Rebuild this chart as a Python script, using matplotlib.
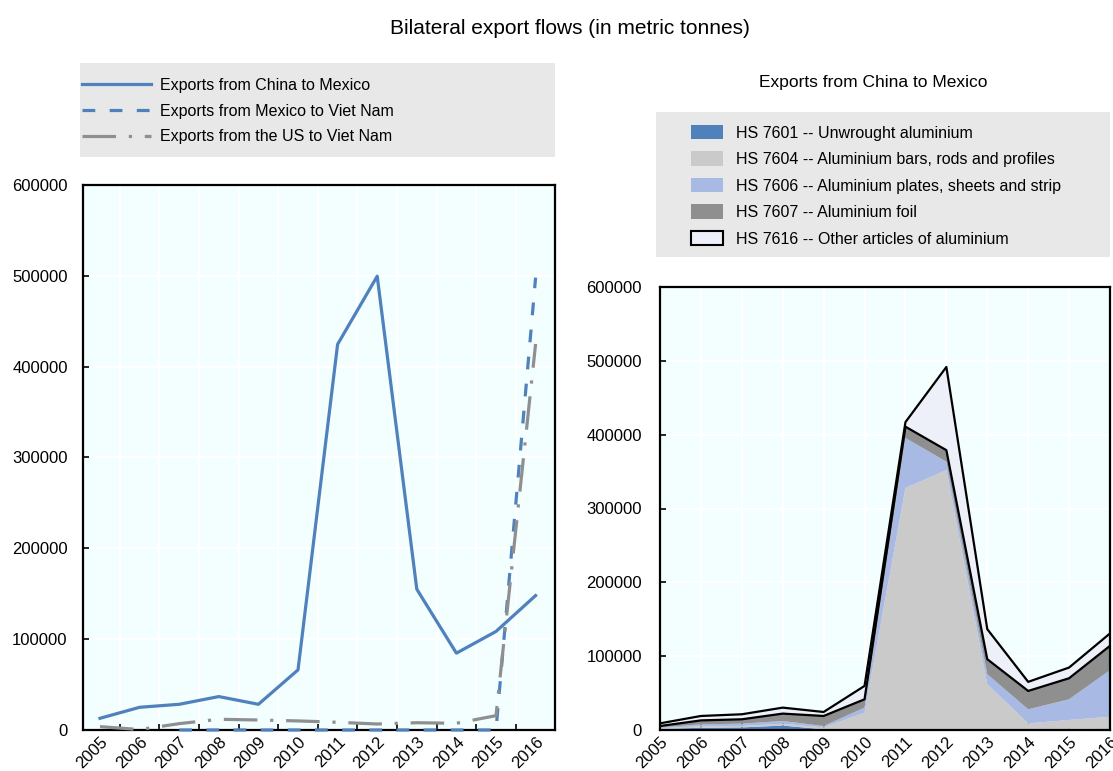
import numpy as np
import matplotlib
matplotlib.use("Agg")
import matplotlib.pyplot as plt
from matplotlib.patches import Patch, Rectangle

plt.rcParams['font.family'] = ['Liberation Sans', 'DejaVu Sans']

years = ['2005', '2006', '2007', '2008', '2009', '2010',
         '2011', '2012', '2013', '2014', '2015', '2016']

# left panel: bilateral flows (tonnes)
china_mexico = [12900, 25000, 28300, 36800, 28300, 66200,
                424600, 499600, 155000, 84600, 108500, 148000]
mexico_vietnam = [np.nan, np.nan, 0, 0, 0, 0, 0, 0, 0, 0, 0, 498000]
us_vietnam = [3700, 500, 7000, 11800, 11000, 10000,
              8500, 6600, 8000, 7400, 15800, 425000]

# right panel: exports from China to Mexico by HS code
hs_labels = ['HS 7601 -- Unwrought aluminium',
             'HS 7604 -- Aluminium bars, rods and profiles',
             'HS 7606 -- Aluminium plates, sheets and strip',
             'HS 7607 -- Aluminium foil',
             'HS 7616 -- Other articles of aluminium']
hs7601 = [1500, 3000, 3500, 6000, 1000, 800, 500, 500, 500, 500, 1500, 2000]
hs7604 = [1000, 2000, 2000, 2500, 2500, 22700, 327300, 351500, 61500, 8500, 12100, 16000]
hs7606 = [1000, 2700, 3100, 3700, 1900, 6800, 67700, 11400, 13600, 19000, 28000, 63000]
hs7607 = [1900, 5300, 5900, 10000, 13600, 11300, 15300, 15600, 20300, 24900, 28500, 33000]
hs7616 = [3600, 6000, 6800, 8100, 5400, 18100, 6200, 112700, 40700, 12300, 14500, 16800]

blue = '#4F81BD'
grey = '#8F8F8F'
bg = '#F3FEFE'
hs_colors = ['#4F81BD', '#CACACA', '#A8B9E3', '#8F8F8F', '#EDF0F8']
fs = 12

fig = plt.figure(figsize=(11.13, 7.71), dpi=100)
W, H = 1113, 771


def fbox(x0, y0, x1, y1):
    # pixel box (top-left origin) -> figure fraction [l, b, w, h]
    return [x0 / W, 1 - y1 / H, (x1 - x0) / W, (y1 - y0) / H]


fig.text(0.512, 1 - 28 / H, 'Bilateral export flows (in metric tonnes)',
         ha='center', va='center', fontsize=15)
fig.text(873 / W, 1 - 82 / H, 'Exports from China to Mexico',
         ha='center', va='center', fontsize=12.5)


def style_axes(ax, pad):
    ax.set_facecolor(bg)
    for s in ax.spines.values():
        s.set_linewidth(1.6)
        s.set_color('black')
    ax.set_ylim(0, 600000)
    ax.set_yticks(np.arange(0, 600001, 100000))
    ax.set_yticklabels([str(v) for v in range(0, 600001, 100000)])
    ax.tick_params(axis='y', direction='in', length=4, width=1.2, labelsize=fs, pad=pad)
    ax.grid(axis='y', color='white', linewidth=1.5)
    ax.set_axisbelow(True)


# ---- left panel
ax1 = fig.add_axes(fbox(83, 185, 555, 730))
style_axes(ax1, 11)
x = np.arange(len(years))
ax1.plot(x, china_mexico, color=blue, lw=2.3, label='Exports from China to Mexico',
         zorder=3, clip_on=False)
ax1.plot(x, mexico_vietnam, color=blue, lw=2.3, linestyle=(0, (4, 4.5)),
         label='Exports from Mexico to Viet Nam', zorder=3, clip_on=False)
ax1.plot(x, us_vietnam, color=grey, lw=2.3, linestyle=(0, (10.5, 4, 1, 4)),
         label='Exports from the US to Viet Nam', zorder=3, clip_on=False)
ax1.set_xlim(-0.43, 11.49)
ax1.set_xticks(x)
ax1.set_xticklabels(years, rotation=45, ha='right', rotation_mode='anchor')
ax1.tick_params(axis='x', which='major', length=0, labelsize=fs, pad=3)
ax1.set_xticks(np.arange(0.5, 11, 1), minor=True)
ax1.tick_params(axis='x', which='minor', direction='in', length=4, width=1.2)
ax1.grid(axis='x', which='minor', color='white', linewidth=1.5)

fig.patches.append(Rectangle((80 / W, 1 - 157 / H), 475 / W, 94 / H,
                             transform=fig.transFigure, facecolor='#E8E8E8',
                             edgecolor='none', zorder=0))
h1, l1 = ax1.get_legend_handles_labels()
fig.legend(h1, l1, loc='upper left', bbox_to_anchor=(82 / W, 1 - 78 / H),
           frameon=False, fontsize=fs - 0.5, handlelength=4.3, handletextpad=0.6,
           labelspacing=0.67, borderaxespad=0, borderpad=0)

# ---- right panel
ax2 = fig.add_axes(fbox(660, 287, 1110, 730))
style_axes(ax2, 13)
series = [hs7601, hs7604, hs7606, hs7607, hs7616]
ax2.stackplot(x, *series, colors=hs_colors, linewidth=0, zorder=2)
cum = np.cumsum(np.array(series), axis=0)
ax2.plot(x, cum[3], color='black', lw=1.6, zorder=3)
ax2.plot(x, cum[4], color='black', lw=1.6, zorder=3)
ax2.set_xlim(0, 11)
ax2.set_xticks(x)
ax2.set_xticklabels(years, rotation=45, ha='right', rotation_mode='anchor')
ax2.tick_params(axis='x', direction='in', length=5, width=1.2, labelsize=fs, pad=3)
ax2.grid(axis='x', color='white', linewidth=1.5)

fig.patches.append(Rectangle((656 / W, 1 - 257 / H), 454 / W, 145 / H,
                             transform=fig.transFigure, facecolor='#E8E8E8',
                             edgecolor='none', zorder=0))
h2 = [Patch(facecolor=c, edgecolor='none') for c in hs_colors[:4]]
h2.append(Patch(facecolor=hs_colors[4], edgecolor='black', linewidth=1.5))
fig.legend(h2, hs_labels, loc='upper left', bbox_to_anchor=(691 / W, 1 - 125 / H),
           frameon=False, fontsize=fs - 0.5, handlelength=2.0, handleheight=1.0,
           handletextpad=0.8, labelspacing=0.68, borderaxespad=0, borderpad=0)

fig.savefig('out.png', dpi=100)
